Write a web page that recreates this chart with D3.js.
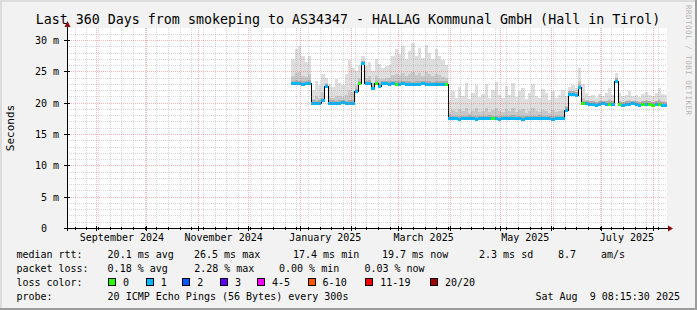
<!DOCTYPE html>
<html>
<head>
<meta charset="utf-8">
<script src="https://cdn.jsdelivr.net/npm/d3@7/dist/d3.min.js"></script>
<style>
  html, body { margin: 0; padding: 0; background: #f2f2f2; }
  svg { display: block; }
  text { font-family: "DejaVu Sans Mono", monospace; fill: #000; }
</style>
</head>
<body>
<svg id="chart" width="697" height="310"></svg>
<script>
// graph window: last 360 days
const endTime = new Date(2025, 7, 9, 8, 15, 30);
const startTime = d3.timeDay.offset(endTime, -360);

// consolidated rows, one every 2 days starting 27 Dec 2024 (values in ms)
const binStart = new Date(2024, 11, 27);
const median = [
  23.1, 23.2, 23.1, 23.0, 23.1, 23.2,
  20.0, 19.9, 20.0, 20.4, 22.6, 20.0, 20.0, 19.9, 20.0, 20.1, 19.9, 20.0,
  20.0, 21.8, 23.1,
  26.3, 23.1, 23.2, 22.3, 23.1, 22.7, 23.1, 23.1, 23.0, 23.1,
  23.0, 23.0, 23.1, 23.0, 23.0, 22.9, 23.0, 23.0, 23.1, 23.0,
  23.0, 22.9, 23.0, 23.0, 23.0, 23.0,
  17.6, 17.5, 17.5, 17.4, 17.5, 17.5, 17.6, 17.5, 17.4, 17.5,
  17.5, 17.5, 17.6, 17.5, 17.5, 17.4, 17.5, 17.5, 17.5, 17.6,
  17.5, 17.5, 17.4, 17.5, 17.5, 17.5, 17.5, 17.6, 17.5, 17.5,
  17.5, 17.4, 17.5, 17.5, 17.5,
  18.9, 21.4, 21.4, 21.3, 22.5, 19.9, 19.9,
  19.8, 19.8, 19.7, 19.8, 19.9, 19.8, 19.8, 19.8, 23.5, 19.8,
  19.7, 19.8, 19.8, 19.9, 19.8, 19.7, 19.8, 19.8, 19.8, 19.7,
  19.8, 19.8, 19.7, 19.7
];
const smokeMid = [
  24.3, 24.8, 24.9, 24.3, 24.1, 24.5,
  20.6, 21.0, 20.8, 21.7, 23.1, 20.9, 20.8, 21.1, 21.0, 20.9, 21.3, 22.0,
  21.7, 22.8, 24.0,
  26.7, 23.9, 24.2, 23.1, 24.3, 23.8, 23.8, 23.9, 23.9, 24.4,
  24.6, 24.4, 24.8, 24.2, 24.6, 24.9, 24.4, 24.7, 24.3, 24.9,
  24.5, 24.2, 24.6, 24.4, 24.1, 23.9,
  18.4, 18.8, 18.5, 19.0, 18.6, 19.2, 18.4, 18.7, 19.1, 18.5,
  18.7, 19.2, 18.5, 18.9, 19.2, 18.6, 18.5, 19.0, 18.6, 19.2,
  18.5, 18.8, 19.0, 18.4, 18.7, 19.2, 18.6, 18.5, 18.9, 18.7,
  18.4, 18.8, 18.5, 18.6, 18.9,
  19.5, 21.7, 21.8, 21.6, 23.4, 20.8, 20.4,
  20.2, 20.2, 20.0, 20.3, 20.2, 20.3, 20.6, 20.2, 24.0, 20.3,
  20.1, 20.2, 20.4, 20.2, 20.2, 20.1, 20.3, 20.4, 20.2, 20.1,
  20.3, 20.6, 20.2, 20.1
];
const smokeMax = [
  27.0, 28.5, 29.0, 27.5, 26.5, 27.5,
  22.0, 23.5, 22.8, 24.5, 24.0, 23.0, 22.5, 23.8, 23.2, 22.8, 24.5, 26.8,
  25.5, 25.0, 26.0,
  27.5, 25.8, 26.5, 25.0, 27.0, 26.2, 25.5, 25.8, 26.0, 27.5,
  28.5, 27.8, 29.0, 27.0, 28.2, 29.5, 27.5, 28.8, 27.2, 29.2,
  28.0, 27.0, 28.5, 27.5, 26.8, 26.0,
  20.5, 21.8, 20.8, 22.5, 21.0, 23.2, 20.6, 21.5, 22.8, 20.9,
  21.4, 23.0, 20.8, 22.0, 23.3, 21.2, 20.7, 22.6, 21.3, 23.1,
  20.9, 21.8, 22.4, 20.6, 21.5, 23.0, 21.0, 20.8, 22.2, 21.6,
  20.5, 21.9, 20.7, 21.2, 22.0,
  21.0, 22.5, 22.8, 22.4, 25.5, 23.0, 21.5,
  21.0, 21.2, 20.8, 21.4, 21.0, 21.6, 22.4, 21.2, 24.8, 21.5,
  21.0, 21.3, 21.8, 21.0, 21.2, 20.9, 21.4, 21.7, 21.2, 21.0,
  21.5, 22.3, 21.4, 21.2
];
// rows where no ping was lost (all others lost 1 of 20)
const noLossBins = [20, 25, 31, 46, 60, 87, 95, 98, 105, 107, 108, 110];

const yTicks = [0, 5, 10, 15, 20, 25, 30];
const labelMonths = [new Date(2024, 8, 1), new Date(2024, 10, 1), new Date(2025, 0, 1),
                     new Date(2025, 2, 1), new Date(2025, 4, 1), new Date(2025, 6, 1)];

const lossLabels = ["0", "1", "2", "3", "4-5", "6-10", "11-19", "20/20"];
const lossColors = ["#26ff00", "#00b8ff", "#0059ff", "#5e00ff", "#ff00ff", "#ff5500", "#ff0000", "#a10000"];

const rttStats = ["20.1 ms avg", "26.5 ms max", "17.4 ms min", "19.7 ms now", "2.3 ms sd", "8.7", "am/s"];
const lossStats = ["0.18 % avg", "2.28 % max", "0.00 % min", "0.03 % now"];

const svg = d3.select("#chart");
const W = 697, H = 310;
const pL = 67, pR = 667, pT = 28, pB = 228;

const x = d3.scaleTime().domain([startTime, endTime]).range([pL, pR]);
const y = d3.scaleLinear().domain([0, 30]).range([pB, 40]);

// background + shade border
svg.append("rect").attr("width", W).attr("height", H).attr("fill", "#f2f2f2");
svg.append("rect").attr("x", 0).attr("y", 0).attr("width", W).attr("height", 2).attr("fill", "#dcdcdc");
svg.append("rect").attr("x", 0).attr("y", 0).attr("width", 2).attr("height", H).attr("fill", "#dcdcdc");
svg.append("rect").attr("x", 0).attr("y", H - 2).attr("width", W).attr("height", 2).attr("fill", "#9c9c9c");
svg.append("rect").attr("x", W - 2).attr("y", 0).attr("width", 2).attr("height", H).attr("fill", "#9c9c9c");

// canvas
svg.append("rect").attr("x", pL).attr("y", pT).attr("width", pR - pL).attr("height", pB - pT).attr("fill", "#fff");

svg.append("clipPath").attr("id", "clip")
  .append("rect").attr("x", pL).attr("y", pT).attr("width", pR - pL).attr("height", pB - pT);

const bins = median.map((m, i) => ({
  t0: d3.timeDay.offset(binStart, 2 * i),
  t1: d3.timeDay.offset(binStart, 2 * i + 2),
  med: m, mid: smokeMid[i], max: smokeMax[i],
  loss: noLossBins.includes(i) ? 0 : 1
}));

const plot = svg.append("g").attr("clip-path", "url(#clip)").attr("shape-rendering", "crispEdges");

// smoke
plot.selectAll("rect.smoke").data(bins).enter().append("rect")
  .attr("class", "smoke")
  .attr("x", d => x(d.t0)).attr("width", d => x(d.t1) - x(d.t0))
  .attr("y", d => y(d.max)).attr("height", d => y(d.med) - y(d.max))
  .attr("fill", "#dedede");
plot.selectAll("rect.smokemid").data(bins).enter().append("rect")
  .attr("class", "smokemid")
  .attr("x", d => x(d.t0)).attr("width", d => x(d.t1) - x(d.t0))
  .attr("y", d => y(d.mid)).attr("height", d => y(d.med) - y(d.mid))
  .attr("fill", "#c8c8c8");
plot.selectAll("rect.smokedark").data(bins).enter().append("rect")
  .attr("class", "smokedark")
  .attr("x", d => x(d.t0)).attr("width", d => x(d.t1) - x(d.t0))
  .attr("y", d => y(d.med) - 2.5).attr("height", 2.5)
  .attr("fill", "#acacac");

// median line (black steps) and loss-coloured band
const stepPts = bins.map(d => [d.t0, d.med]).concat([[endTime, median[median.length - 1]]]);
plot.append("path")
  .attr("d", d3.line().x(d => x(d[0])).y(d => Math.round(y(d[1])) + 0.5).curve(d3.curveStepAfter)(stepPts))
  .attr("fill", "none").attr("stroke", "#000").attr("stroke-width", 1);
plot.selectAll("rect.med").data(bins).enter().append("rect")
  .attr("class", "med")
  .attr("x", d => x(d.t0)).attr("width", d => x(d.t1) - x(d.t0))
  .attr("y", d => Math.round(y(d.med)) - 1).attr("height", 3)
  .attr("fill", d => lossColors[d.loss]);

// grid, drawn on top like rrdtool
const grid = svg.append("g").attr("shape-rendering", "crispEdges").attr("stroke-dasharray", "1,1");
const minorY = d3.range(1, 32).filter(v => v % 5 !== 0);
grid.selectAll("line.my").data(minorY).enter().append("line")
  .attr("x1", pL).attr("x2", pR)
  .attr("y1", d => Math.round(y(d)) + 0.5).attr("y2", d => Math.round(y(d)) + 0.5)
  .attr("stroke", "rgba(120,120,120,0.28)");
const weeks = d3.timeMonday.range(startTime, endTime);
grid.selectAll("line.mx").data(weeks).enter().append("line")
  .attr("y1", pT).attr("y2", pB)
  .attr("x1", d => Math.round(x(d)) + 0.5).attr("x2", d => Math.round(x(d)) + 0.5)
  .attr("stroke", "rgba(120,120,120,0.28)");
grid.selectAll("line.My").data(yTicks.slice(1)).enter().append("line")
  .attr("x1", pL).attr("x2", pR)
  .attr("y1", d => Math.round(y(d)) + 0.5).attr("y2", d => Math.round(y(d)) + 0.5)
  .attr("stroke", "rgba(235,60,60,0.38)");
const months = d3.timeMonth.range(startTime, endTime);
grid.selectAll("line.Mx").data(months).enter().append("line")
  .attr("y1", pT).attr("y2", pB)
  .attr("x1", d => Math.round(x(d)) + 0.5).attr("x2", d => Math.round(x(d)) + 0.5)
  .attr("stroke", "rgba(235,60,60,0.38)");

// axes lines, ticks and arrows
const ax = svg.append("g").attr("shape-rendering", "crispEdges").attr("stroke", "#000");
ax.append("line").attr("x1", pL + 0.5).attr("x2", pL + 0.5).attr("y1", pB + 3).attr("y2", pT - 3);
ax.append("line").attr("x1", pL - 3).attr("x2", pR + 3).attr("y1", pB + 0.5).attr("y2", pB + 0.5);
ax.selectAll("line.ty").data(yTicks).enter().append("line")
  .attr("x1", pL - 3).attr("x2", pL + 3)
  .attr("y1", d => Math.round(y(d)) + 0.5).attr("y2", d => Math.round(y(d)) + 0.5);
ax.selectAll("line.tx").data(months).enter().append("line")
  .attr("y1", pB - 2).attr("y2", pB + 3)
  .attr("x1", d => Math.round(x(d)) + 0.5).attr("x2", d => Math.round(x(d)) + 0.5);
ax.selectAll("line.twx").data(weeks).enter().append("line")
  .attr("y1", pB - 1).attr("y2", pB + 2)
  .attr("x1", d => Math.round(x(d)) + 0.5).attr("x2", d => Math.round(x(d)) + 0.5);
svg.append("path").attr("d", `M${pL + 0.5},${pT - 7}L${pL - 2.5},${pT - 1}L${pL + 3.5},${pT - 1}Z`).attr("fill", "#8b0a0a");
svg.append("path").attr("d", `M${pR + 6},${pB + 0.5}L${pR + 1},${pB - 2.5}L${pR + 1},${pB + 3.5}Z`).attr("fill", "#8b0a0a");

// tick labels through d3 axes
const yAxis = svg.append("g").attr("transform", `translate(${pL},0)`)
  .call(d3.axisLeft(y).tickValues(yTicks).tickSize(0).tickPadding(8)
    .tickFormat(d => d === 0 ? "0\u00a0\u00a0" : d + "\u00a0m"));
yAxis.select(".domain").remove();
yAxis.selectAll("text").attr("font-family", "DejaVu Sans Mono").attr("font-size", 10).attr("dy", "0.36em");

const fmt = d3.timeFormat("%B %Y");
const xAxis = svg.append("g").attr("transform", `translate(0,${pB})`)
  .call(d3.axisBottom(x)
    .tickValues(labelMonths.map(m => d3.timeDay.offset(m, 15)))
    .tickSize(0).tickPadding(6).tickFormat(fmt));
xAxis.select(".domain").remove();
xAxis.selectAll("text").attr("font-family", "DejaVu Sans Mono").attr("font-size", 10);

// titles
svg.append("text").attr("x", 348).attr("y", 24).attr("text-anchor", "middle")
  .attr("font-size", 13.3).text("Last 360 Days from smokeping to AS34347 - HALLAG Kommunal GmbH (Hall in Tirol)");
svg.append("text").attr("transform", "translate(14,128) rotate(-90)").attr("text-anchor", "middle")
  .attr("font-size", 11).text("Seconds");
svg.append("text").attr("transform", "translate(686,5) rotate(90)")
  .attr("font-size", 7.5).attr("textLength", 110).attr("lengthAdjust", "spacing")
  .style("fill", "#b4b4b4").text("RRDTOOL / TOBI OETIKER");

// legend
const lg = svg.append("g").attr("font-size", 10);
const rttX = [107.6, 194, 293, 382, 479, 558, 601];
lg.append("text").attr("x", 16.4).attr("y", 258).text("median rtt:");
lg.selectAll("text.rtt").data(rttStats).enter().append("text")
  .attr("class", "rtt").attr("x", (d, i) => rttX[i]).attr("y", 258).text(d => d);
const lossX = [107.6, 194.2, 279, 364.4];
lg.append("text").attr("x", 16.4).attr("y", 272).text("packet loss:");
lg.selectAll("text.pl").data(lossStats).enter().append("text")
  .attr("class", "pl").attr("x", (d, i) => lossX[i]).attr("y", 272).text(d => d);
const boxX = [108, 145.8, 182.2, 220, 257, 307.6, 365.3, 430];
lg.append("text").attr("x", 16.4).attr("y", 286).text("loss color:");
lg.selectAll("rect.lc").data(lossColors).enter().append("rect")
  .attr("x", (d, i) => boxX[i] + 0.5).attr("y", 278.5).attr("width", 7).attr("height", 7)
  .attr("fill", d => d).attr("stroke", "#000").attr("shape-rendering", "crispEdges");
lg.selectAll("text.ll").data(lossLabels).enter().append("text")
  .attr("x", (d, i) => boxX[i] + 15).attr("y", 286).text(d => d);
lg.append("text").attr("x", 16.4).attr("y", 300).text("probe:");
lg.append("text").attr("x", 107.6).attr("y", 300).text("20 ICMP Echo Pings (56 Bytes) every 300s");
lg.append("text").attr("x", 680).attr("y", 300).attr("text-anchor", "end").text("Sat Aug \u00a09 08:15:30 2025");
</script>
</body>
</html>
